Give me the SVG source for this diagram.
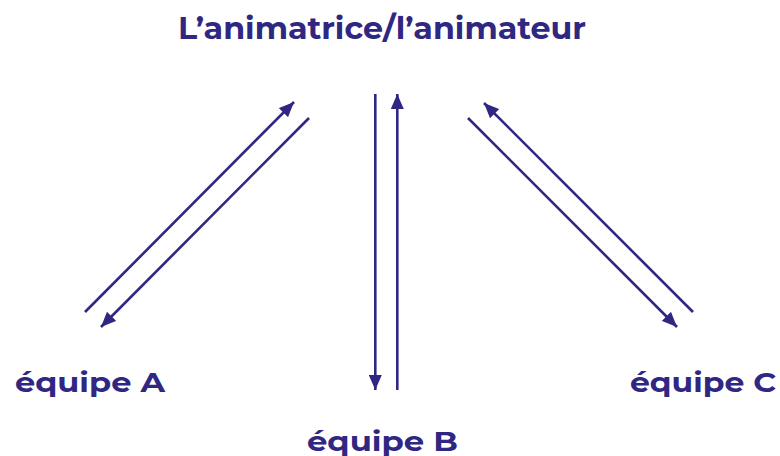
<svg xmlns="http://www.w3.org/2000/svg" width="780" height="456" viewBox="0 0 780 456">
  <style>
    .lbl { font-family: "Montserrat", "Open Sans", "Liberation Sans", sans-serif; font-weight: 700; fill: #2f2782; }
    .conn { stroke: #2f2782; stroke-width: 2.6; fill: none; marker-end: url(#ah); }
  </style>
  <defs>
    <marker id="ah" markerUnits="userSpaceOnUse" markerWidth="16" markerHeight="13" refX="15" refY="6.5" orient="auto">
      <path d="M0,0 L15,6.5 L0,13 z" fill="#2f2782"/>
    </marker>
  </defs>
  <rect width="780" height="456" fill="#ffffff"/>
  <g id="animateur">
    <text class="lbl" x="178" y="39" font-size="31" textLength="408" lengthAdjust="spacingAndGlyphs">L’animatrice/l’animateur</text>
  </g>
  <g id="equipe-a">
    <text class="lbl" x="15" y="392" font-size="28" textLength="150" lengthAdjust="spacingAndGlyphs">équipe A</text>
  </g>
  <g id="equipe-b">
    <text class="lbl" x="307" y="451" font-size="28" textLength="151" lengthAdjust="spacingAndGlyphs">équipe B</text>
  </g>
  <g id="equipe-c">
    <text class="lbl" x="630" y="392" font-size="28" textLength="146" lengthAdjust="spacingAndGlyphs">équipe C</text>
  </g>
  <g id="connectors">
    <line class="conn" x1="85" y1="312" x2="294" y2="102"/>
    <line class="conn" x1="309" y1="118" x2="101" y2="327"/>
    <line class="conn" x1="375.3" y1="94" x2="375.3" y2="390"/>
    <line class="conn" x1="397.3" y1="390" x2="397.3" y2="94"/>
    <line class="conn" x1="468" y1="118" x2="677" y2="327"/>
    <line class="conn" x1="693" y1="312" x2="484" y2="103"/>
  </g>
</svg>
